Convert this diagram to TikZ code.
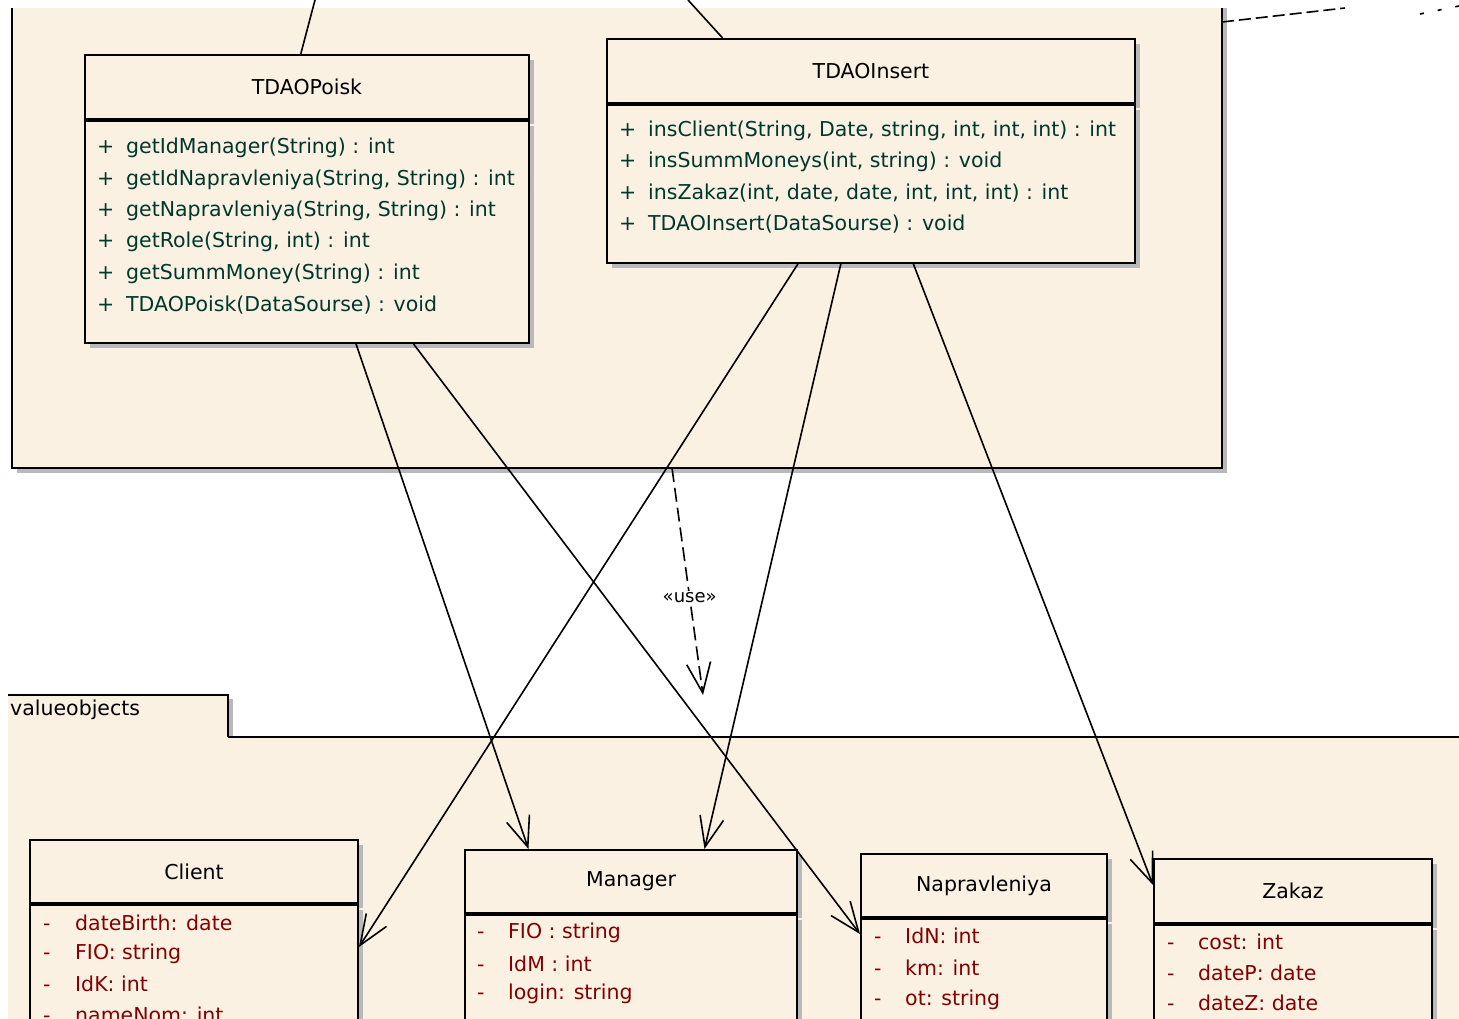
\documentclass[tikz,border=0pt]{standalone}
\usepackage{fontspec}
\setmainfont{DejaVu Sans}
\usetikzlibrary{arrows.meta}
\usetikzlibrary{shadows}
\usetikzlibrary{calc}

\definecolor{umlfill}{RGB}{250,241,227}
\definecolor{opcolor}{RGB}{0,55,45}
\definecolor{attrcolor}{RGB}{130,0,0}
\definecolor{shadowgray}{RGB}{185,185,185}

\tikzset{
  umlfont/.style={font=\fontsize{20.5}{24}\selectfont},
  classhead/.style={draw, line width=2pt, fill=umlfill, anchor=north west, inner sep=0pt, umlfont,
    drop shadow={shadow xshift=5pt, shadow yshift=-5pt, fill=shadowgray, opacity=1}},
  opline/.style={anchor=west, inner sep=0pt, text=opcolor, umlfont},
  attrline/.style={anchor=west, inner sep=0pt, text=attrcolor, umlfont},
  uses/.style={line width=1.6pt, -{Straight Barb[length=30pt,width=24pt,line width=1.6pt]}},
  usedep/.style={uses, dash pattern=on 14pt off 6pt},
}

\begin{document}
\begin{tikzpicture}[x=1pt,y=-1pt]
\clip (0,0) rectangle (1459,1018);

% dao package
\fill[shadowgray] (17,8) rectangle (1227,473);
\fill[umlfill] (12,8) rectangle (1222,468);
\draw[line width=2pt] (12,8) -- (12,468) -- (1222,468) -- (1222,8);
\coordinate (usefrom) at (672,468);
\draw[line width=1.6pt, dash pattern=on 12pt off 5pt] (1222,22) -- (1345,8);
\draw[line width=1.6pt, dash pattern=on 4pt off 14pt] (1420,14) -- (1459,6);

% valueobjects package
\begin{scope}
\clip (8,600) rectangle (1470,1030);
\fill[shadowgray] (0,699) rectangle (233,745);
\fill[umlfill] (0,695) rectangle (228,741);
\draw[line width=2pt] (0,695) -- (228,695) -- (228,741) -- (0,741);
\fill[umlfill] (0,737) rectangle (1470,1030);
\draw[line width=2pt] (228,737) -- (1470,737);
\end{scope}
\node[anchor=west, inner sep=0pt, umlfont] (vopkg) at (10,710) {valueobjects};
\coordinate (useto) at (703,695);

% TDAOPoisk
\node[classhead, minimum width=444pt, minimum height=64pt] (poisk) at (84,54) {TDAOPoisk};
\node[classhead, minimum width=444pt, minimum height=222pt] (poiskbody) at (poisk.south west) {};
\foreach \txt [count=\i from 0] in {{getIdManager(String) : int}, {getIdNapravleniya(String, String) : int},
    {getNapravleniya(String, String) : int}, {getRole(String, int) : int}, {getSummMoney(String) : int},
    {TDAOPoisk(DataSourse) : void}}
  \node[opline] (poiskop\i) at (97,{148+31.4*\i}) {\makebox[29pt][l]{+}\txt};

% TDAOInsert
\node[classhead, minimum width=528pt, minimum height=64pt] (insert) at (606,38) {TDAOInsert};
\node[classhead, minimum width=528pt, minimum height=158pt] (insertbody) at (insert.south west) {};
\foreach \txt [count=\i from 0] in {{insClient(String, Date, string, int, int, int) : int},
    {insSummMoneys(int, string) : void}, {insZakaz(int, date, date, int, int, int) : int},
    {TDAOInsert(DataSourse) : void}}
  \node[opline] (insertop\i) at (619,{131+31*\i}) {\makebox[29pt][l]{+}\txt};

% Client
\node[classhead, minimum width=328pt, minimum height=63pt] (client) at (29,839) {Client};
\node[classhead, minimum width=328pt, minimum height=200pt] (clientbody) at (client.south west) {};
\foreach \txt [count=\i from 0] in {{dateBirth: date}, {FIO: string}, {IdK: int}, {nameNom: int}}
  \node[attrline] (clientattr\i) at (43,{923+30.5*\i}) {\makebox[32pt][l]{-}\txt};

% Manager
\node[classhead, minimum width=332pt, minimum height=63pt] (manager) at (464,849) {Manager};
\node[classhead, minimum width=332pt, minimum height=200pt] (managerbody) at (manager.south west) {};
\foreach \txt [count=\i from 0] in {{FIO : string}, {IdM : int}, {login: string}}
  \node[attrline] (managerattr\i) at (477,{933+30.5*\i}) {\makebox[31pt][l]{-}\txt};

% Napravleniya
\node[classhead, minimum width=246pt, minimum height=63pt] (naprav) at (860,853) {Napravleniya};
\node[classhead, minimum width=246pt, minimum height=200pt] (napravbody) at (naprav.south west) {};
\foreach \txt [count=\i from 0] in {{IdN: int}, {km: int}, {ot: string}}
  \node[attrline] (napravattr\i) at (874,{936+32*\i}) {\makebox[31pt][l]{-}\txt};

% Zakaz
\node[classhead, minimum width=278pt, minimum height=64pt] (zakaz) at (1153,858) {Zakaz};
\node[classhead, minimum width=278pt, minimum height=200pt] (zakazbody) at (zakaz.south west) {};
\foreach \txt [count=\i from 0] in {{cost: int}, {dateP: date}, {dateZ: date}}
  \node[attrline] (zakazattr\i) at (1167,{942+30.5*\i}) {\makebox[31pt][l]{-}\txt};

% links leaving the picture
\coordinate (poiskup) at (315,0);
\coordinate (insertup) at (688,0);
\draw[line width=1.6pt] ($(poisk.north west)!0.486!(poisk.north east)$) -- (poiskup);
\draw[line width=1.6pt] ($(insert.north west)!0.22!(insert.north east)$) -- (insertup);

% dependencies
\draw[uses] ($(poiskbody.south west)!0.61!(poiskbody.south east)$) -- ($(manager.north west)!0.193!(manager.north east)$);
\draw[uses] ($(poiskbody.south west)!0.739!(poiskbody.south east)$) -- ($(napravbody.north west)+(0,16)$);
\draw[uses] ($(insertbody.south west)!0.362!(insertbody.south east)$) -- ($(clientbody.north east)+(0,43)$);
\draw[uses] ($(insertbody.south west)!0.443!(insertbody.south east)$) -- ($(manager.north west)!0.72!(manager.north east)$);
\draw[uses] ($(insertbody.south west)!0.58!(insertbody.south east)$) -- ($(zakaz.north west)+(0,27)$);
\draw[usedep] (usefrom) -- node[pos=0.57, fill=white, inner sep=1pt, font=\fontsize{18}{21}\selectfont] (uselabel) {«use»} (useto);
\end{tikzpicture}
\end{document}
